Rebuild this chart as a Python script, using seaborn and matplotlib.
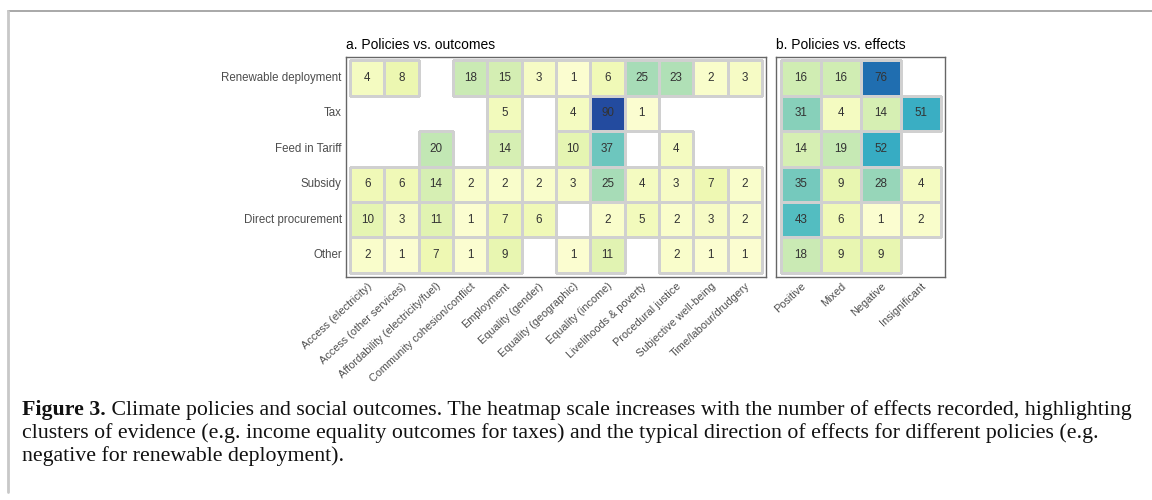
import numpy as np
import pandas as pd
import matplotlib
matplotlib.use("Agg")
import matplotlib.pyplot as plt
import seaborn as sns
from matplotlib.lines import Line2D
from matplotlib.colors import PowerNorm, to_rgba

policies = ["Renewable deployment", "Tax", "Feed in Tariff", "Subsidy",
            "Direct procurement", "Other"]
outcomes = ["Access (electricity)", "Access (other services)",
            "Affordability (electricity/fuel)", "Community cohesion/conflict",
            "Employment", "Equality (gender)", "Equality (geographic)",
            "Equality (income)", "Livelihoods & poverty", "Procedural justice",
            "Subjective well-being", "Time/labour/drudgery"]
effects = ["Positive", "Mixed", "Negative", "Insignificant"]

nan = np.nan
outcome_renewable = [4, 8, nan, 18, 15, 3, 1, 6, 25, 23, 2, 3]
outcome_tax = [nan, nan, nan, nan, 5, nan, 4, 90, 1, nan, nan, nan]
outcome_fit = [nan, nan, 20, nan, 14, nan, 10, 37, nan, 4, nan, nan]
outcome_subsidy = [6, 6, 14, 2, 2, 2, 3, 25, 4, 3, 7, 2]
outcome_procurement = [10, 3, 11, 1, 7, 6, nan, 2, 5, 2, 3, 2]
outcome_other = [2, 1, 7, 1, 9, nan, 1, 11, nan, 2, 1, 1]

effect_renewable = [16, 16, 76, nan]
effect_tax = [31, 4, 14, 51]
effect_fit = [14, 19, 52, nan]
effect_subsidy = [35, 9, 28, 4]
effect_procurement = [43, 6, 1, 2]
effect_other = [18, 9, 9, nan]

caption_bold = "Figure 3."
caption_lines = [
    " Climate policies and social outcomes. The heatmap scale increases with the number of effects recorded, highlighting",
    "clusters of evidence (e.g. income equality outcomes for taxes) and the typical direction of effects for different policies (e.g.",
    "negative for renewable deployment).",
]

df_a = pd.DataFrame([outcome_renewable, outcome_tax, outcome_fit, outcome_subsidy,
                     outcome_procurement, outcome_other], index=policies, columns=outcomes)
df_b = pd.DataFrame([effect_renewable, effect_tax, effect_fit, effect_subsidy,
                     effect_procurement, effect_other], index=policies, columns=effects)

sns.set_theme(style="white")
plt.rcParams["font.family"] = ["Liberation Sans", "DejaVu Sans"]

W, H = 1152, 500
fig = plt.figure(figsize=(W / 100, H / 100), dpi=100)

def px_axes(l, t, r, b):
    return fig.add_axes([l / W, 1 - b / H, (r - l) / W, (b - t) / H])

ax_a = px_axes(346, 57, 766, 277)
ax_b = px_axes(776, 57, 945, 277)

edge_col = "#d0d0d0"
common = dict(cmap="YlGnBu", norm=PowerNorm(gamma=0.75, vmin=0, vmax=120), cbar=False,
              annot=True, fmt=".0f", linewidths=0.8, linecolor=edge_col,
              annot_kws={"color": "#333333", "fontsize": 8.4})

sns.heatmap(df_a, ax=ax_a, **common)
sns.heatmap(df_b, ax=ax_b, **common)

# no borders around empty cells
for ax in (ax_a, ax_b):
    mesh = ax.collections[0]
    mask = np.ma.getmaskarray(mesh.get_array()).ravel()
    ec = np.tile(np.array(to_rgba(edge_col)), (mask.size, 1))
    ec[mask] = (0, 0, 0, 0)
    mesh.set_edgecolor(ec)

# padding inside the panel border (ggplot-like)
ax_a.set_xlim(-0.117, 12.117)
ax_a.set_ylim(6.113, -0.085)
ax_b.set_xlim(-0.117, 4.1)
ax_b.set_ylim(6.113, -0.085)

for ax in (ax_a, ax_b):
    for s in ax.spines.values():
        s.set_visible(True)
        s.set_color("#666666")
        s.set_linewidth(1.0)
    ax.set_xlabel("")
    ax.set_ylabel("")
    ax.tick_params(axis="both", length=0, pad=3)
    for lab in ax.get_xticklabels():
        lab.set_rotation(43)
        lab.set_ha("right")
        lab.set_rotation_mode("anchor")
        lab.set_fontsize(7.8)
        lab.set_color("#4d4d4d")

for lab in ax_a.get_yticklabels():
    lab.set_rotation(0)
    lab.set_fontsize(8.3)
    lab.set_color("#4d4d4d")
ax_b.set_yticks([])

ax_a.set_title("a. Policies vs. outcomes", loc="left", fontsize=10, color="black", pad=6)
ax_b.set_title("b. Policies vs. effects", loc="left", fontsize=10, color="black", pad=6)

# outer frame
fig.add_artist(Line2D([8 / W, 1.0], [1 - 11 / H, 1 - 11 / H], transform=fig.transFigure,
                      color="#9a9a9a", lw=1.2))
fig.add_artist(Line2D([8 / W, 8 / W], [1 - 11 / H, 1 - 492 / H], transform=fig.transFigure,
                      color="#c8c8c8", lw=2.0))

# caption
cap_font = dict(family=["Liberation Serif", "DejaVu Serif"], fontsize=15.75, color="#111111")
baselines = [415, 438, 461]
renderer = fig.canvas.get_renderer()
tb = fig.text(22 / W, 1 - baselines[0] / H, caption_bold, fontweight="bold",
              va="baseline", ha="left", **cap_font)
bb = tb.get_window_extent(renderer=renderer)
fig.text(bb.x1 / W, 1 - baselines[0] / H, caption_lines[0], va="baseline", ha="left", **cap_font)
for y, line in zip(baselines[1:], caption_lines[1:]):
    fig.text(22 / W, 1 - y / H, line, va="baseline", ha="left", **cap_font)

fig.savefig("out.png", dpi=100)
